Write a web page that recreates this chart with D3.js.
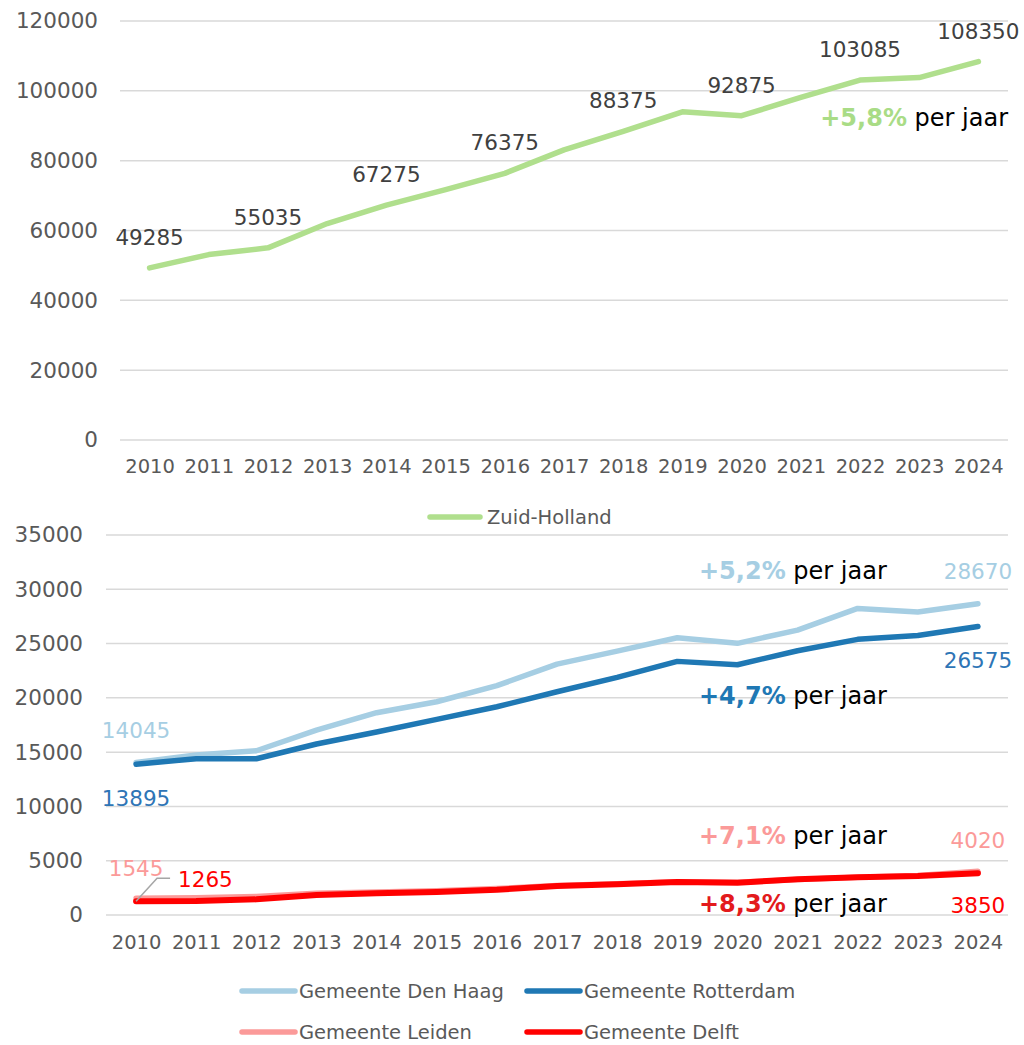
<!DOCTYPE html>
<html>
<head>
<meta charset="utf-8">
<script src="https://cdn.jsdelivr.net/npm/d3@7"></script>
<style>
  body { margin: 0; background: #fff; }
  text { font-family: "DejaVu Sans", sans-serif; }
</style>
</head>
<body>
<script>
// data
const years = [2010, 2011, 2012, 2013, 2014, 2015, 2016, 2017, 2018, 2019, 2020, 2021, 2022, 2023, 2024]
const zuidHolland = [49285, 53100, 55035, 62000, 67275, 71700, 76375, 83100, 88375, 94000, 92875, 98100, 103085, 103800, 108350]
const denHaag = [14045, 14730, 15130, 17030, 18630, 19640, 21120, 23110, 24310, 25540, 25020, 26240, 28240, 27900, 28670]
const rotterdam = [13895, 14400, 14390, 15750, 16850, 18020, 19180, 20560, 21890, 23360, 23050, 24340, 25390, 25750, 26575]
const leiden = [1545, 1580, 1700, 2000, 2120, 2230, 2430, 2720, 2870, 3060, 3010, 3270, 3470, 3640, 4020]
const delft = [1265, 1280, 1445, 1840, 2000, 2120, 2330, 2670, 2830, 3040, 2980, 3290, 3470, 3590, 3850]
const topTicks = [0, 20000, 40000, 60000, 80000, 100000, 120000]
const bottomTicks = [0, 5000, 10000, 15000, 20000, 25000, 30000, 35000]
const labeledYears = [2010, 2012, 2014, 2016, 2018, 2020, 2022, 2024]

const W = 1024, H = 1045
const svg = d3.select('body').append('svg').attr('width', W).attr('height', H)

const tickColor = '#595959'
const gridColor = '#d9d9d9'

// ---------- top chart ----------
const xT = d3.scalePoint().domain(years).range([120, 1008]).padding(0.5)
const yT = d3.scaleLinear().domain([0, 120000]).range([440, 21])

svg.append('g').selectAll('line')
	.data(topTicks).enter().append('line')
	.attr('x1', 120).attr('x2', 1008)
	.attr('y1', d => yT(d)).attr('y2', d => yT(d))
	.attr('stroke', gridColor).attr('stroke-width', 1.5)

const yAxisT = svg.append('g').attr('transform', 'translate(120,0)')
	.call(d3.axisLeft(yT).tickValues(topTicks).tickSize(0).tickPadding(22).tickFormat(d3.format('d')))
yAxisT.select('.domain').remove()
yAxisT.selectAll('text').attr('font-size', 21.5).attr('fill', tickColor).style('font-family', '"DejaVu Sans", sans-serif')

const xAxisT = svg.append('g').attr('transform', 'translate(0,440)')
	.call(d3.axisBottom(xT).tickSize(0).tickPadding(19).tickFormat(d3.format('d')))
xAxisT.select('.domain').remove()
xAxisT.selectAll('text').attr('font-size', 19.5).attr('fill', tickColor).style('font-family', '"DejaVu Sans", sans-serif')

const lineT = d3.line().x((d, i) => xT(years[i])).y(d => yT(d))
svg.append('path').datum(zuidHolland)
	.attr('d', lineT).attr('fill', 'none')
	.attr('stroke', '#b0df8d').attr('stroke-width', 5.5)
	.attr('stroke-linecap', 'round').attr('stroke-linejoin', 'round')

svg.append('g').selectAll('text')
	.data(years.map((y, i) => [y, zuidHolland[i]]).filter(d => labeledYears.includes(d[0])))
	.enter().append('text')
	.attr('x', d => xT(d[0])).attr('y', d => yT(d[1]) - 23)
	.attr('text-anchor', 'middle').attr('font-size', 21.5).attr('fill', '#404040')
	.text(d => d[1])

function growth(x, y, pct, color, anchor) {
	const t = svg.append('text').attr('x', x).attr('y', y).attr('font-size', 24).attr('text-anchor', anchor || 'start')
	t.append('tspan').attr('fill', color).attr('font-weight', 'bold').text(pct)
	t.append('tspan').attr('fill', '#000').text(' per jaar')
}
growth(1008, 126, '+5,8%', '#a9dc86', 'end')

// top legend
svg.append('line').attr('x1', 430).attr('x2', 480).attr('y1', 517).attr('y2', 517)
	.attr('stroke', '#b0df8d').attr('stroke-width', 5.5).attr('stroke-linecap', 'round')
svg.append('text').attr('x', 487).attr('y', 517).attr('dy', '0.35em')
	.attr('font-size', 19.5).attr('fill', tickColor).text('Zuid-Holland')

// ---------- bottom chart ----------
const xB = d3.scalePoint().domain(years).range([106, 1008]).padding(0.5)
const yB = d3.scaleLinear().domain([0, 35000]).range([915, 535])

svg.append('g').selectAll('line')
	.data(bottomTicks).enter().append('line')
	.attr('x1', 106).attr('x2', 1008)
	.attr('y1', d => yB(d)).attr('y2', d => yB(d))
	.attr('stroke', gridColor).attr('stroke-width', 1.5)

const yAxisB = svg.append('g').attr('transform', 'translate(106,0)')
	.call(d3.axisLeft(yB).tickValues(bottomTicks).tickSize(0).tickPadding(23).tickFormat(d3.format('d')))
yAxisB.select('.domain').remove()
yAxisB.selectAll('text').attr('font-size', 21.5).attr('fill', tickColor).style('font-family', '"DejaVu Sans", sans-serif')

const xAxisB = svg.append('g').attr('transform', 'translate(0,915)')
	.call(d3.axisBottom(xB).tickSize(0).tickPadding(20).tickFormat(d3.format('d')))
xAxisB.select('.domain').remove()
xAxisB.selectAll('text').attr('font-size', 19.5).attr('fill', tickColor).style('font-family', '"DejaVu Sans", sans-serif')

const series = [
	{ name: 'Gemeente Den Haag', values: denHaag, color: '#a6cee3', width: 5.5 },
	{ name: 'Gemeente Rotterdam', values: rotterdam, color: '#1f78b4', width: 5.5 },
	{ name: 'Gemeente Leiden', values: leiden, color: '#fb9a99', width: 5.5 },
	{ name: 'Gemeente Delft', values: delft, color: '#ff0000', width: 6 }
]

const lineB = d3.line().x((d, i) => xB(years[i])).y(d => yB(d))
svg.append('g').selectAll('path')
	.data(series).enter().append('path')
	.attr('d', d => lineB(d.values)).attr('fill', 'none')
	.attr('stroke', d => d.color).attr('stroke-width', d => d.width)
	.attr('stroke-linecap', 'round').attr('stroke-linejoin', 'round')

// end labels
const last = years.length - 1
function valLabel(x, y, txt, color, anchor) {
	svg.append('text').attr('x', x).attr('y', y).attr('dy', '0.35em')
		.attr('text-anchor', anchor || 'middle').attr('font-size', 21.5).attr('fill', color).text(txt)
}
valLabel(xB(2010), yB(denHaag[0]) - 32, denHaag[0], '#a6cee3')
valLabel(xB(2010), yB(rotterdam[0]) + 34, rotterdam[0], '#2e75b6')
valLabel(xB(2010), yB(leiden[0]) - 30, leiden[0], '#fb9a99')
valLabel(xB(2024), yB(denHaag[last]) - 32, denHaag[last], '#a6cee3')
valLabel(xB(2024), yB(rotterdam[last]) + 34, rotterdam[last], '#2e75b6')
valLabel(xB(2024), yB(leiden[last]) - 31, leiden[last], '#fb9a99')
valLabel(xB(2024), yB(delft[last]) + 32, delft[last], '#ff0000')

// leader line for Delft 2010
const px = xB(2010), py = yB(delft[0])
svg.append('path')
	.attr('d', `M${px},${py} L${px + 21},${py - 23} L${px + 34},${py - 23}`)
	.attr('fill', 'none').attr('stroke', '#a6a6a6').attr('stroke-width', 1.5)
valLabel(px + 42, py - 22, delft[0], '#ff0000', 'start')

growth(699, 579, '+5,2%', '#a6cee3')
growth(699, 704, '+4,7%', '#1f78b4')
growth(699, 844, '+7,1%', '#fb9a99')
growth(699, 912, '+8,3%', '#e31a1c')

// bottom legend
const legPos = [[240, 991], [525, 991], [240, 1032], [525, 1032]]
series.forEach((s, i) => {
	const [lx, ly] = legPos[i]
	svg.append('line').attr('x1', lx + 2).attr('x2', lx + 55).attr('y1', ly).attr('y2', ly)
		.attr('stroke', s.color).attr('stroke-width', 5.5).attr('stroke-linecap', 'round')
	svg.append('text').attr('x', lx + 59).attr('y', ly).attr('dy', '0.35em')
		.attr('font-size', 19.5).attr('fill', tickColor).text(s.name)
})
</script>
</body>
</html>
